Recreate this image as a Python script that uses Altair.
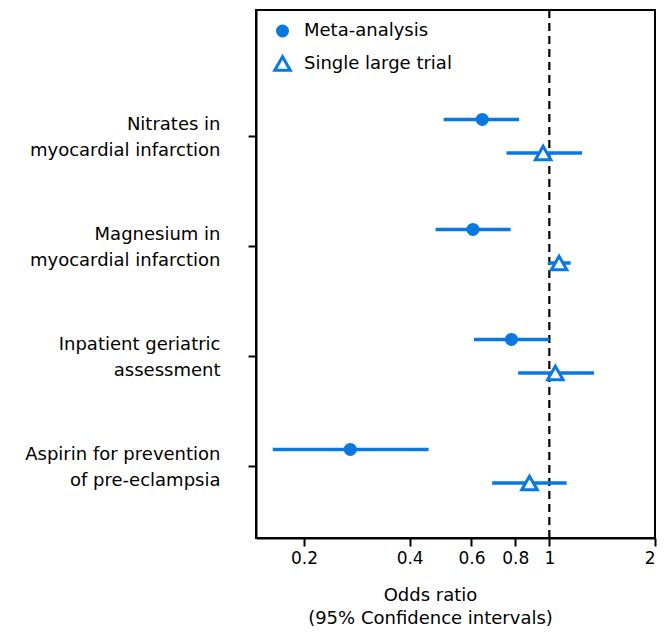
import json
import altair as alt
import pandas as pd

# ---- data ----
studies = [
    ["Nitrates in", "myocardial infarction"],
    ["Magnesium in", "myocardial infarction"],
    ["Inpatient geriatric", "assessment"],
    ["Aspirin for prevention", "of pre-eclampsia"],
]
series_names = ["Meta-analysis", "Single large trial"]

meta_or = [0.644, 0.606, 0.78, 0.271]
meta_lo = [0.50, 0.474, 0.61, 0.163]
meta_hi = [0.82, 0.776, 1.00, 0.453]

trial_or = [0.96, 1.066, 1.04, 0.878]
trial_lo = [0.755, 0.99, 0.815, 0.687]
trial_hi = [1.24, 1.15, 1.34, 1.12]

x_ticks = [0.2, 0.4, 0.6, 0.8, 1, 2]
null_value = [1]

BLUE = "#0878e2"
FONT = "DejaVu Sans"

# vertical shift of each series around its study row
row_shift = {"Meta-analysis": -0.15, "Single large trial": 0.155}

rows = []
for i in range(len(studies)):
    for name, o, lo, hi in [
        ("Meta-analysis", meta_or[i], meta_lo[i], meta_hi[i]),
        ("Single large trial", trial_or[i], trial_lo[i], trial_hi[i]),
    ]:
        rows.append(dict(study=i + 1, series=name, pos=i + 1 + row_shift[name],
                         odds=o, lo=lo, hi=hi))
df = pd.DataFrame(rows)

x_scale = alt.Scale(type="log", domain=[0.146, 2])
y_scale = alt.Scale(domain=[-0.145, 4.655], reverse=True, zero=False, nice=False)

label_expr = " : ".join(
    f"datum.value == {i + 1} ? {json.dumps(s)}" for i, s in enumerate(studies)
) + " : ''"

x_axis = alt.Axis(
    values=x_ticks, format="~g", grid=False,
    title=["Odds ratio", "(95% Confidence intervals)"],
    titleFont=FONT, titleFontSize=18, titleFontWeight="normal", titleColor="black",
    titleLineHeight=23, titleX=174, titleY=48, titleBaseline="top",
    labelFont=FONT, labelFontSize=17, labelColor="black", labelPadding=4,
    tickSize=8, tickWidth=2, tickColor="black",
    domainColor="black", domainWidth=2,
)
y_axis = alt.Axis(
    values=[1, 2, 3, 4], labelExpr=label_expr, grid=False, title=None,
    labelFont=FONT, labelFontSize=18, labelColor="black", labelAlign="right",
    labelBaseline="middle", labelLineHeight=26, labelPadding=28,
    labelOffset=-11, labelLimit=400,
    tickSize=8, tickWidth=2, tickColor="black",
    domainColor="black", domainWidth=2,
)


def leg():
    return alt.Legend(title=None, symbolStrokeWidth=3, symbolOpacity=1)


bars = alt.Chart(df).mark_rule(color=BLUE, strokeWidth=3.5).encode(
    x=alt.X("lo:Q", scale=x_scale, axis=x_axis),
    x2="hi:Q",
    y=alt.Y("pos:Q", scale=y_scale, axis=y_axis),
)

ref = alt.Chart(pd.DataFrame({"v": null_value})).mark_rule(
    color="black", strokeWidth=2.2, strokeDash=[8, 5]
).encode(x=alt.X("v:Q", scale=x_scale, axis=x_axis))

points = alt.Chart(df).mark_point(opacity=1, strokeWidth=3).encode(
    x=alt.X("odds:Q", scale=x_scale, axis=x_axis),
    y=alt.Y("pos:Q", scale=y_scale, axis=y_axis),
    shape=alt.Shape("series:N", scale=alt.Scale(domain=series_names, range=["circle", "triangle-up"]),
                    legend=leg()),
    fill=alt.Fill("series:N", scale=alt.Scale(domain=series_names, range=[BLUE, "white"]),
                  legend=leg()),
    stroke=alt.Stroke("series:N", scale=alt.Scale(domain=series_names, range=[BLUE, BLUE]),
                      legend=leg()),
    size=alt.Size("series:N", scale=alt.Scale(domain=series_names, range=[100, 240]),
                  legend=leg()),
)

chart = alt.layer(ref, bars, points).properties(
    width=399, height=528,
    padding={"left": 256, "top": 10, "right": 16, "bottom": 95},
    autosize=alt.AutoSizeParams(type="none"),
).configure_view(
    stroke="black", strokeWidth=2
).configure_legend(
    orient="none", legendX=17, legendY=12,
    labelFont=FONT, labelFontSize=18, labelColor="black",
    labelOffset=12, rowPadding=8,
)

chart.save("out.html", embed_options={"renderer": "svg", "actions": False})
